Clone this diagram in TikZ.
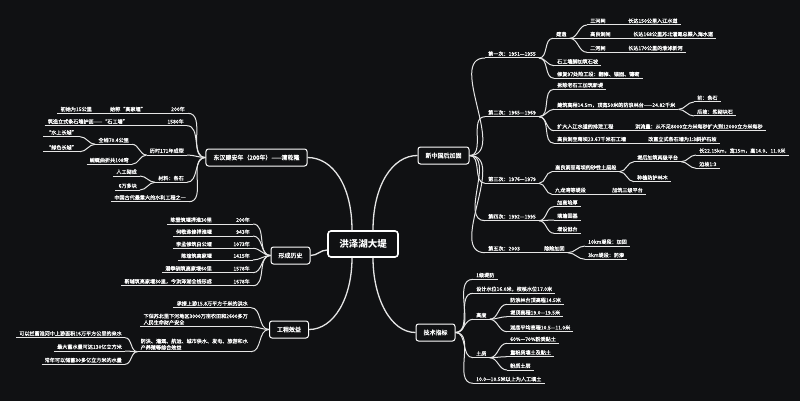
\documentclass[tikz,border=0pt]{standalone}
\usepackage{fontspec}
\setmainfont{Noto Sans CJK SC}
\newfontfamily\leafcjk{Noto Sans CJK SC}[FakeBold=0.7]
\newfontfamily\topiccjk{Noto Sans CJK SC}[FakeBold=1]
\usepackage{tikz}
\usetikzlibrary{positioning}
\definecolor{bgcol}{HTML}{101113}
\definecolor{linecol}{HTML}{E6E6E6}
\newcommand{\leaffont}{\leafcjk\fontsize{5.1}{6.4}\selectfont}
\newcommand{\topicfont}{\topiccjk\fontsize{6}{7}\selectfont}

\begin{document}
\begin{tikzpicture}[
x=1pt, y=-1pt,
link/.style={draw=linecol, line width=1pt},
leaf/.style={font=\leaffont, text=white, inner xsep=3pt, inner ysep=1.6pt, anchor=south west,
  append after command={(\tikzlastnode.south west) edge[link] (\tikzlastnode.south east)}},
leafl/.style={leaf, anchor=south east},
topic/.style={draw=white, line width=1pt, fill=bgcol, rounded corners=2.5pt, font=\topicfont, text=white, inner xsep=7.5pt, minimum height=17pt},
root/.style={topic, line width=1.6pt, rounded corners=3pt, font=\fontsize{9.5}{11}\selectfont\bfseries, minimum width=70pt, minimum height=26pt}
]
\fill[bgcol] (0,0) rectangle (800,401);
\useasboundingbox (0,0) rectangle (800,401);

% main topics
\node[root] (root) at (363,244) {洪泽湖大堤};
\node[topic] (donghan) at (256.5,157.5) {东汉建安年（200年）——清乾隆};
\node[topic] (lishi) at (290.5,255.5) {形成历史};
\node[topic] (xiaoyi) at (289,329.5) {工程效益};
\node[topic] (jiagu) at (443.5,155.5) {新中国后加固};
\node[topic] (zhibiao) at (435.5,332.5) {技术指标};

\draw[link, line width=1.3pt] ([xshift=-11pt]root.north) .. controls +(0,-45) and +(25,0) .. (donghan.east);
\draw[link, line width=1.3pt] ([xshift=10pt]root.north) .. controls +(0,-45) and +(-25,0) .. (jiagu.west);
\draw[link, line width=1.3pt] ([yshift=-6pt]root.west) to[out=180,in=0] (lishi.east);
\draw[link, line width=1.3pt] ([xshift=-11pt]root.south) .. controls +(0,40) and +(25,0) .. (xiaoyi.east);
\draw[link, line width=1.3pt] ([xshift=10pt]root.south) .. controls +(0,40) and +(-25,0) .. (zhibiao.west);

% donghan
\node[leafl] (l1) at (188,113.3) {200年};
\node[leafl] (l1a) at (149,113.3) {始称“高家堰”};
\node[leafl] (l1b) at (95,113.3) {初始为15公里};
\node[leafl] (l2) at (187,125.7) {1580年};
\node[leafl] (l2a) at (131,125.7) {筑造立式条石墙护面——“石工墙”};
\node[leafl] (l3) at (187,155) {历时171年成型};
\node[leafl] (l3a) at (132,144.3) {全线70.4公里};
\node[leafl] (l3a1) at (80,136.7) {“水上长城”};
\node[leafl] (l3a2) at (80,151.7) {“绿色长城”};
\node[leafl] (l3b) at (132,164.3) {蜿蜒曲折共108弯};
\node[leafl] (l4) at (187,182.3) {材料：条石};
\node[leafl] (l4a) at (140,176) {人工砌成};
\node[leafl] (l4b) at (140,190) {6万多块};
\node[leafl] (l5) at (189,201.7) {中国古代最重大的水利工程之一};

\foreach \c in {l1,l2,l3,l4,l5}
  \draw[link] (donghan.west) to[out=180,in=0] (\c.south east);
\draw[link] (l1.south west) -- (l1a.south east);
\draw[link] (l1a.south west) -- (l1b.south east);
\draw[link] (l2.south west) -- (l2a.south east);
\foreach \c in {l3a,l3b}
  \draw[link] (l3.south west) to[out=180,in=0] (\c.south east);
\foreach \c in {l3a1,l3a2}
  \draw[link] (l3a.south west) to[out=180,in=0] (\c.south east);
\foreach \c in {l4a,l4b}
  \draw[link] (l4.south west) to[out=180,in=0] (\c.south east);

% history
\node[leafl] (h1) at (253,224) {200年};
\node[leafl] (h1a) at (215,224) {陈登筑堰捍淮30里};
\node[leafl] (h2) at (253,236) {943年};
\node[leafl] (h2a) at (215,236) {何敬洙修捍淮堰};
\node[leafl] (h3) at (253,248.3) {1073年};
\node[leafl] (h3a) at (215,248.3) {李孟修筑白公堰};
\node[leafl] (h4) at (253,260) {1415年};
\node[leafl] (h4a) at (215,260) {陈瑄筑高家堰};
\node[leafl] (h5) at (253,272.7) {1578年};
\node[leafl] (h5a) at (215,272.7) {潘季驯筑高家堰60里};
\node[leafl] (h6) at (253,285.7) {1678年};
\node[leafl] (h6a) at (215,285.7) {靳辅筑高家堰30里，今洪泽湖全线形成};

\foreach \c in {h1,h2,h3,h4,h5,h6} {
  \draw[link] (lishi.west) to[out=180,in=0] (\c.south east);
  \draw[link] (\c.south west) -- (\c a.south east);
}

% benefits
\node[leafl] (g1) at (251,307.7) {承接上游15.8万平方千米的洪水};
\node[leafl, align=left] (g2) at (251,326.7) {下保苏北里下河地区3000万亩农田和2600多万\\人民生命财产安全};
\node[leafl, align=left] (g3) at (251,351.7) {防洪、灌溉、航运、城市供水、发电、旅游和水\\产养殖等综合效益};
\node[leafl] (g3a) at (125,337.7) {可以拦蓄淮河中上游面积16万平方公里的来水};
\node[leafl] (g3b) at (125,351) {最大蓄水量可达130亿立方米};
\node[leafl] (g3c) at (125,364.3) {常年可以储蓄30多亿立方米的水量};

\foreach \c in {g1,g2,g3}
  \draw[link] (xiaoyi.west) to[out=180,in=0] (\c.south east);
\foreach \c in {g3a,g3b,g3c}
  \draw[link] (g3.south west) to[out=180,in=0] (\c.south east);

% reinforcement after 1949
\node[leaf] (n1) at (485,58) {第一次：1951—1955};
\node[leaf] (n1a) at (553,38.3) {建造};
\node[leaf] (n1a1) at (587,25) {三河闸};
\node[leaf] (n1a1x) at (625,25) {长达150公里入江水道};
\node[leaf] (n1a2) at (587,38.3) {高良涧闸};
\node[leaf] (n1a2x) at (630,38.3) {长达168公里苏北灌溉总渠入海水道};
\node[leaf] (n1a3) at (587,52.3) {二河闸};
\node[leaf] (n1a3x) at (625,52.3) {长达170公里的淮沭新河};
\node[leaf] (n1b) at (554,65.7) {石工墙脚加筑石坡};
\node[leaf] (n1c) at (554,78.3) {修复97处险工段：翻修、锚固、镶砌};

\node[leaf] (n2) at (485,116.7) {第二次：1965—1969};
\node[leaf] (n2a) at (554,89.3) {拆除老石工加筑新堤};
\node[leaf] (n2b) at (554,109.3) {建筑高程14.5m，顶宽50米的防浪林台——24.82千米};
\node[leaf] (n2b1) at (694,102) {前：条石};
\node[leaf] (n2b2) at (694,116) {后坡：浆砌块石};
\node[leaf] (n2c) at (554,130.7) {扩大入江水道的排泄工程};
\node[leaf] (n2cx) at (632,130.7) {洪流量：从不足8000立方米每秒扩大到12000立方米每秒};
\node[leaf] (n2d) at (554,143.3) {高良涧至蒋坝23.67千米石工墙};
\node[leaf] (n2dx) at (645,143.3) {改直立式条石墙为1:3斜护石坡};

\node[leaf] (n3) at (485,183.3) {第三次：1976—1979};
\node[leaf] (n3a) at (552,171.7) {高良涧至蒋坝的砂性土层段};
\node[leaf] (n3a1) at (634,161.7) {堤后加筑两级平台};
\node[leaf] (n3a1a) at (696,155) {长22.15km，宽15m，高14.0、11.0米};
\node[leaf] (n3a1b) at (696,168.3) {边坡1:3};
\node[leaf] (n3a2) at (634,181.7) {种植防护林木};
\node[leaf] (n3b) at (552,194.3) {九龙湾等堤段};
\node[leaf] (n3bx) at (609,194.3) {加筑三级平台};

\node[leaf] (n4) at (485,220.7) {第四次：1992—1995};
\node[leaf] (n4a) at (554,206.7) {加高培厚};
\node[leaf] (n4b) at (554,220) {填塘固基};
\node[leaf] (n4c) at (554,233.3) {增设戗台};

\node[leaf] (n5) at (485,252.7) {第五次：2003};
\node[leaf] (n5x) at (541,252.7) {除险加固};
\node[leaf] (n5a) at (585,246) {10km堤段：加固};
\node[leaf] (n5b) at (585,259.3) {3km堤段：防渗};

\foreach \c in {n1,n2,n3,n4,n5}
  \draw[link] (jiagu.east) to[out=0,in=180] (\c.south west);
\foreach \c in {n1a,n1b,n1c}
  \draw[link] (n1.south east) to[out=0,in=180] (\c.south west);
\foreach \c in {n1a1,n1a2,n1a3} {
  \draw[link] (n1a.south east) to[out=0,in=180] (\c.south west);
  \draw[link] (\c.south east) -- (\c x.south west);
}
\foreach \c in {n2a,n2b,n2c,n2d}
  \draw[link] (n2.south east) to[out=0,in=180] (\c.south west);
\foreach \c in {n2b1,n2b2}
  \draw[link] (n2b.south east) to[out=0,in=180] (\c.south west);
\draw[link] (n2c.south east) -- (n2cx.south west);
\draw[link] (n2d.south east) -- (n2dx.south west);
\foreach \c in {n3a,n3b}
  \draw[link] (n3.south east) to[out=0,in=180] (\c.south west);
\foreach \c in {n3a1,n3a2}
  \draw[link] (n3a.south east) to[out=0,in=180] (\c.south west);
\foreach \c in {n3a1a,n3a1b}
  \draw[link] (n3a1.south east) to[out=0,in=180] (\c.south west);
\draw[link] (n3b.south east) -- (n3bx.south west);
\foreach \c in {n4a,n4b,n4c}
  \draw[link] (n4.south east) to[out=0,in=180] (\c.south west);
\draw[link] (n5.south east) -- (n5x.south west);
\foreach \c in {n5a,n5b}
  \draw[link] (n5x.south east) to[out=0,in=180] (\c.south west);

% technical indices
\node[leaf] (t1) at (473,279.3) {1级堤防};
\node[leaf] (t2) at (473,293.3) {设计水位16.0米，校核水位17.0米};
\node[leaf] (t3) at (473,319.3) {高度};
\node[leaf] (t3a) at (507,304.3) {防浪林台顶高程14.5米};
\node[leaf] (t3b) at (507,316.7) {堤顶高程19.0—19.5米};
\node[leaf] (t3c) at (507,331.7) {湖底平均高程10.5—11.0米};
\node[leaf] (t4) at (473,357.7) {土质};
\node[leaf] (t4a) at (507,343.3) {60\%—70\%粉质黏土};
\node[leaf] (t4b) at (507,356.7) {重粉质壤土及黏土};
\node[leaf] (t4c) at (507,370) {粉质土层};
\node[leaf] (t5) at (473,383.3) {10.0—10.5米以上为人工填土};

\foreach \c in {t1,t2,t3,t4,t5}
  \draw[link] (zhibiao.east) to[out=0,in=180] (\c.south west);
\foreach \c in {t3a,t3b,t3c}
  \draw[link] (t3.south east) to[out=0,in=180] (\c.south west);
\foreach \c in {t4a,t4b,t4c}
  \draw[link] (t4.south east) to[out=0,in=180] (\c.south west);
\end{tikzpicture}
\end{document}
